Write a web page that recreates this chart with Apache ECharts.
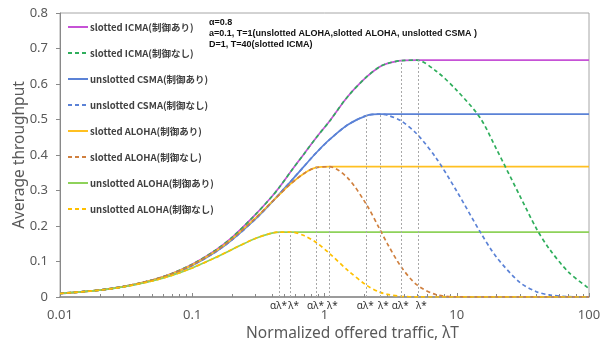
<!DOCTYPE html>
<html>
<head>
<meta charset="utf-8">
<script src="https://cdn.jsdelivr.net/npm/echarts@6/dist/echarts.min.js"></script>
<style>
html,body{margin:0;padding:0;background:#fff;}
#chart{width:600px;height:341px;}
</style>
</head>
<body>
<div id="chart"></div>
<script>
// ---- data ----
const traffic = [0.01,0.02,0.03,0.05,0.07,0.1,0.15,0.2,0.3,0.4,0.46,0.56,0.7,0.87,1.09,1.5,2.08,2.6,3,3.8,5,7,10,15,20,30,40,50,70,100];

const icmaCtrl   = [0.0099,0.0196,0.029,0.048,0.066,0.092,0.132,0.168,0.232,0.283,0.311,0.355,0.403,0.450,0.495,0.565,0.620,0.648,0.658,0.666,0.667,0.667,0.667,0.667,0.667,0.667,0.667,0.667,0.667,0.667];
const icmaNoCtrl = [0.0099,0.0196,0.029,0.048,0.066,0.092,0.132,0.168,0.232,0.283,0.311,0.355,0.403,0.450,0.495,0.565,0.620,0.648,0.658,0.666,0.667,0.636,0.582,0.505,0.416,0.285,0.193,0.136,0.070,0.024];

const csmaCtrl   = [0.0099,0.0195,0.029,0.047,0.0645,0.089,0.127,0.161,0.219,0.267,0.292,0.327,0.368,0.407,0.443,0.485,0.511,0.515,0.515,0.515,0.515,0.515,0.515,0.515,0.515,0.515,0.515,0.515,0.515,0.515];
const csmaNoCtrl = [0.0099,0.0195,0.029,0.047,0.0645,0.089,0.127,0.161,0.219,0.267,0.292,0.327,0.368,0.407,0.443,0.485,0.511,0.515,0.512,0.496,0.459,0.391,0.298,0.184,0.112,0.041,0.015,0.006,0.001,0];

const sAlohaCtrl   = [0.0099,0.0196,0.0291,0.0476,0.0653,0.0905,0.129,0.164,0.222,0.268,0.290,0.320,0.348,0.365,0.367,0.367,0.367,0.367,0.367,0.367,0.367,0.367,0.367,0.367,0.367,0.367,0.367,0.367,0.367,0.367];
const sAlohaNoCtrl = [0.0099,0.0196,0.0291,0.0476,0.0653,0.0905,0.129,0.164,0.222,0.268,0.290,0.320,0.348,0.365,0.367,0.335,0.260,0.193,0.149,0.085,0.034,0.0064,0.0005,0,0,0,0,0,0,0];

const uAlohaCtrl   = [0.0098,0.0192,0.0283,0.0452,0.0608,0.0819,0.111,0.134,0.165,0.180,0.183,0.183,0.183,0.183,0.183,0.183,0.183,0.183,0.183,0.183,0.183,0.183,0.183,0.183,0.183,0.183,0.183,0.183,0.183,0.183];
const uAlohaNoCtrl = [0.0098,0.0192,0.0283,0.0452,0.0608,0.0819,0.111,0.134,0.165,0.180,0.183,0.183,0.173,0.153,0.123,0.075,0.033,0.014,0.0074,0.0019,0.0002,0,0,0,0,0,0,0,0,0];

const seriesNames = [
  'slotted ICMA(制御あり)','slotted ICMA(制御なし)',
  'unslotted CSMA(制御あり)','unslotted CSMA(制御なし)',
  'slotted ALOHA(制御あり)','slotted ALOHA(制御なし)',
  'unslotted ALOHA(制御あり)','unslotted ALOHA(制御なし)'
];
const seriesValues = [icmaCtrl, icmaNoCtrl, csmaCtrl, csmaNoCtrl, sAlohaCtrl, sAlohaNoCtrl, uAlohaCtrl, uAlohaNoCtrl];
const seriesColors = ['#C652D6','#2FAE5C','#5B82D6','#5B82D6','#FFC021','#D0803F','#8ED25A','#FFC000'];
const seriesDashed = [false,true,false,true,false,true,false,true];

// optimal-traffic markers (αλ*, λ*) and the throughput they reach
const markerX      = [0.457,0.554,0.87,1.09,2.07,2.65,3.81,5.12];
const markerTop    = [0.183,0.183,0.367,0.367,0.515,0.515,0.667,0.667];
const markerLabels = ['αλ*','λ*','αλ*','λ*','αλ*','λ*','αλ*','λ*'];

const yTicks = { min: 0, max: 0.8, interval: 0.1 };
const xRange = { min: 0.01, max: 100 };

const notes = ['α=0.8', 'a=0.1, T=1(unslotted ALOHA,slotted ALOHA, unslotted CSMA )', 'D=1, T=40(slotted ICMA)'];

// ---- chart ----
const chart = echarts.init(document.getElementById('chart'));
const series = seriesNames.map((name, i) => ({
  name,
  type: 'line',
  data: traffic.map((x, k) => [x, seriesValues[i][k]]),
  smooth: 0.3,
  showSymbol: false,
  symbol: 'none',
  color: seriesColors[i],
  lineStyle: { color: seriesColors[i], width: 1.7, type: seriesDashed[i] ? [4, 3] : 'solid' },
  z: seriesDashed[i] ? 3 : 2
}));
series.push({
  name: 'markers',
  type: 'line',
  data: [],
  silent: true,
  markLine: {
    silent: true,
    symbol: ['none', 'none'],
    animation: false,
    lineStyle: { color: '#a8a8a8', type: [2, 2], width: 1 },
    label: {
      show: true, position: 'start', formatter: '{b}', distance: 4,
      color: '#333', fontSize: 10, fontFamily: 'Noto Sans'
    },
    emphasis: { disabled: true },
    data: markerX.map((x, i) => [
      { coord: [x, 0], name: markerLabels[i], label: { offset: [i % 2 === 0 ? -1 : 3, 0] } },
      { coord: [x, markerTop[i]] }
    ])
  },
  z: 1
});

chart.setOption({
  animation: false,
  backgroundColor: '#fff',
  grid: { left: 60, right: 11, top: 13, bottom: 44, show: true, borderColor: '#a6a6a6', borderWidth: 1, outerBoundsMode: 'none', containLabel: false },
  legend: {
    data: seriesNames,
    orient: 'vertical',
    left: 62, top: 16,
    itemWidth: 20, itemHeight: 12, itemGap: 14,
    itemStyle: { opacity: 0, borderWidth: 0 },
    textStyle: { fontSize: 9.5, fontWeight: 'bold', color: '#404040', fontFamily: 'Noto Sans CJK JP', lineHeight: 12, padding: [0, 0, 0, -3] },
    selectedMode: false
  },
  xAxis: {
    type: 'log', logBase: 10, min: xRange.min, max: xRange.max,
    name: 'Normalized offered traffic, λT',
    nameLocation: 'middle', nameGap: 29, nameMoveOverlap: false,
    nameTextStyle: { fontSize: 15.5, color: '#595959', fontFamily: 'Noto Sans', padding: [0, 0, 0, 56] },
    axisLine: { lineStyle: { color: '#898989', width: 1.5 } },
    axisTick: { show: true, inside: true, length: 4, lineStyle: { color: '#898989' } },
    minorTick: { show: true, splitNumber: 9, length: 3, lineStyle: { color: '#898989' } },
    axisLabel: { fontSize: 13, color: '#595959', fontFamily: 'Noto Sans', margin: 12 },
    splitLine: { show: false }
  },
  yAxis: {
    type: 'value', min: yTicks.min, max: yTicks.max, interval: yTicks.interval,
    name: 'Average throughput',
    nameLocation: 'middle', nameGap: 32, nameMoveOverlap: false,
    nameTextStyle: { fontSize: 15.5, color: '#595959', fontFamily: 'Noto Sans' },
    axisLine: { show: true, lineStyle: { color: '#898989', width: 1 } },
    axisTick: { show: true, length: 4, lineStyle: { color: '#898989' } },
    axisLabel: { fontSize: 13, color: '#595959', fontFamily: 'Noto Sans', margin: 12 },
    splitLine: { show: false }
  },
  graphic: [{
    type: 'text',
    left: 209, top: 17,
    style: {
      text: notes.join('\n'),
      fontSize: 9, lineHeight: 11, fontWeight: 'bold',
      fontFamily: 'Liberation Sans', fill: '#111'
    }
  }],
  series
});
</script>
</body>
</html>
